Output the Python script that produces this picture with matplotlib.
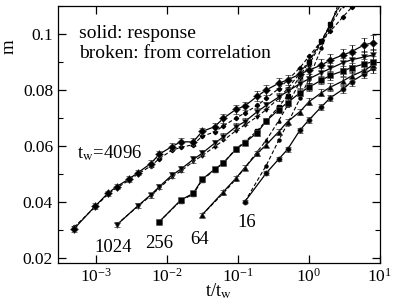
import matplotlib
matplotlib.use("Agg")
import matplotlib.pyplot as plt
from matplotlib.ticker import LogLocator, LogFormatterMathtext, NullLocator, MultipleLocator

plt.rcParams["font.family"] = ["Liberation Serif", "DejaVu Serif"]
plt.rcParams["mathtext.fontset"] = "stix"

# waiting times and measured times t (same grid for every t_w)
TW = [16, 64, 256, 1024, 4096]
T = [2, 4, 6, 8, 12, 16, 24, 32, 48, 64, 96, 128, 192, 256, 384, 512, 768,
     1024, 1536, 2048, 3072, 4096, 6144, 8192, 12288, 16384, 24576, 32768]

# solid: response
M16 = [0.0401, 0.0503, 0.0553, 0.0588, 0.0657, 0.0693, 0.0740, 0.0772, 0.0802,
       0.0830, 0.0857, 0.0877]
M64 = [0.0354, 0.0437, 0.0485, 0.0523, 0.0574, 0.0604, 0.0651, 0.0687, 0.0723,
       0.0758, 0.0790, 0.0810, 0.0832, 0.0850, 0.0870, 0.0889]
M256 = [0.0330, 0.0407, 0.0431, 0.0481, 0.0517, 0.0540, 0.0588, 0.0612, 0.0648,
        0.0689, 0.0730, 0.0755, 0.0790, 0.0810, 0.0835, 0.0852, 0.0868, 0.0880,
        0.0893, 0.0901]
M1024 = [0.0318, 0.0387, 0.0425, 0.0455, 0.0496, 0.0517, 0.0552, 0.0574, 0.0610,
         0.0633, 0.0669, 0.0687, 0.0723, 0.0745, 0.0775, 0.0795, 0.0823, 0.0840,
         0.0862, 0.0877, 0.0897, 0.0908, 0.0918, 0.0925]
M4096 = [0.0304, 0.0386, 0.0431, 0.0455, 0.0483, 0.0505, 0.0537, 0.0571, 0.0598,
         0.0615, 0.0615, 0.0652, 0.0669, 0.0699, 0.0731, 0.0743, 0.0778, 0.0800,
         0.0824, 0.0836, 0.0857, 0.0871, 0.0889, 0.0907, 0.0925, 0.0937, 0.0961,
         0.0969]

# error bars of the response data
E16 = [0.0006, 0.0007, 0.0008, 0.0008, 0.0009, 0.0010, 0.0011, 0.0012, 0.0013,
       0.0014, 0.0015, 0.0016]
E64 = [0.0006, 0.0007, 0.0008, 0.0008, 0.0009, 0.0009, 0.0010, 0.0010, 0.0011,
       0.0012, 0.0013, 0.0014, 0.0015, 0.0016, 0.0017, 0.0018]
E256 = [0.0006, 0.0007, 0.0008, 0.0008, 0.0009, 0.0009, 0.0010, 0.0010, 0.0011,
        0.0011, 0.0012, 0.0012, 0.0013, 0.0014, 0.0015, 0.0016, 0.0017, 0.0018,
        0.0019, 0.0020]
E1024 = [0.0008, 0.0009, 0.0009, 0.0010, 0.0010, 0.0010, 0.0011, 0.0011, 0.0012,
         0.0012, 0.0013, 0.0013, 0.0014, 0.0014, 0.0015, 0.0015, 0.0016, 0.0016,
         0.0017, 0.0018, 0.0019, 0.0020, 0.0021, 0.0022]
E4096 = [0.0010, 0.0010, 0.0010, 0.0010, 0.0010, 0.0010, 0.0012, 0.0012, 0.0012,
         0.0014, 0.0014, 0.0014, 0.0015, 0.0015, 0.0016, 0.0016, 0.0017, 0.0017,
         0.0018, 0.0018, 0.0020, 0.0020, 0.0021, 0.0022, 0.0023, 0.0024, 0.0025,
         0.0026]

# broken: from correlation
D16 = [0.0401, 0.0530, 0.0620, 0.0680, 0.0770, 0.0840, 0.0950, 0.1030, 0.1150]
D64 = [0.0354, 0.0432, 0.0482, 0.0522, 0.0580, 0.0620, 0.0690, 0.0745, 0.0830,
       0.0890, 0.0970, 0.1035, 0.1130]
D256 = [0.0330, 0.0405, 0.0428, 0.0478, 0.0515, 0.0540, 0.0590, 0.0615, 0.0655,
        0.0690, 0.0740, 0.0780, 0.0850, 0.0900, 0.0975, 0.1035, 0.1120, 0.1180]
D1024 = [0.0320, 0.0385, 0.0422, 0.0450, 0.0490, 0.0510, 0.0545, 0.0565, 0.0598,
         0.0620, 0.0655, 0.0675, 0.0705, 0.0730, 0.0770, 0.0805, 0.0860, 0.0905,
         0.0975, 0.1030, 0.1100, 0.1150]
D4096 = [0.0310, 0.0383, 0.0428, 0.0450, 0.0478, 0.0500, 0.0528, 0.0555, 0.0585,
         0.0595, 0.0605, 0.0635, 0.0650, 0.0672, 0.0700, 0.0718, 0.0745, 0.0770,
         0.0805, 0.0835, 0.0880, 0.0920, 0.0975, 0.1010, 0.1060, 0.1095, 0.1160]

SOLID = [M16, M64, M256, M1024, M4096]
ERRS = [E16, E64, E256, E1024, E4096]
BROKEN = [D16, D64, D256, D1024, D4096]
MARKERS = ["o", "^", "s", "v", "D"]
LABELS = ["16", "64", "256", "1024", r"t$_{\rm w}$=4096"]
LABEL_POS = [(0.586, 0.157), (0.441, 0.092), (0.314, 0.077), (0.171, 0.062), (0.06, 0.428)]

fig = plt.figure(figsize=(3.94, 3.01), dpi=100)
ax = fig.add_axes([0.147, 0.126, 0.817, 0.854])

for tw, m, e, d, mk in zip(TW, SOLID, ERRS, BROKEN, MARKERS):
    x = [t / tw for t in T[:len(m)]]
    ax.errorbar(x, m, yerr=e, color="black", lw=0.9, marker=mk, ms=3.8,
                mec="#555555", mew=0.4, capsize=2.2, elinewidth=0.7,
                capthick=0.7, zorder=3)
    xd = [t / tw for t in T[:len(d)]]
    ax.plot(xd, d, color="black", lw=0.8, ls=(0, (3.5, 2)), marker=mk, ms=2.2,
            zorder=2)

for lab, (lx, ly) in zip(LABELS, LABEL_POS):
    ha = "left" if lab.startswith("t") else "center"
    ax.text(lx, ly, lab, transform=ax.transAxes, ha=ha, va="center", fontsize=13.5)

ax.text(0.065, 0.895, "solid: response", transform=ax.transAxes, ha="left",
        va="center", fontsize=14)
ax.text(0.065, 0.815, "broken: from correlation", transform=ax.transAxes,
        ha="left", va="center", fontsize=14)

ax.set_xscale("log")
ax.set_xlim(2.9e-4, 10)
ax.set_ylim(0.0182, 0.11)
ax.xaxis.set_major_locator(LogLocator(base=10, numticks=10))
ax.xaxis.set_major_formatter(LogFormatterMathtext())
ax.xaxis.set_minor_locator(NullLocator())
ax.yaxis.set_major_locator(MultipleLocator(0.02))
ax.yaxis.set_minor_locator(MultipleLocator(0.01))
ax.yaxis.set_major_formatter(lambda v, _: f"{v:g}")

ax.tick_params(which="both", direction="in", top=True, right=True, labelsize=12.5)
ax.tick_params(which="major", length=6, width=0.9)
ax.tick_params(which="minor", length=3.5, width=0.8)
for s in ax.spines.values():
    s.set_linewidth(0.9)

ax.set_xlabel(r"t/t$_{\rm w}$", fontsize=13.5, labelpad=-3)
ax.set_ylabel("m", fontsize=13.5)
ax.yaxis.set_label_coords(-0.125, 0.84)

fig.savefig("out.png", dpi=100)
